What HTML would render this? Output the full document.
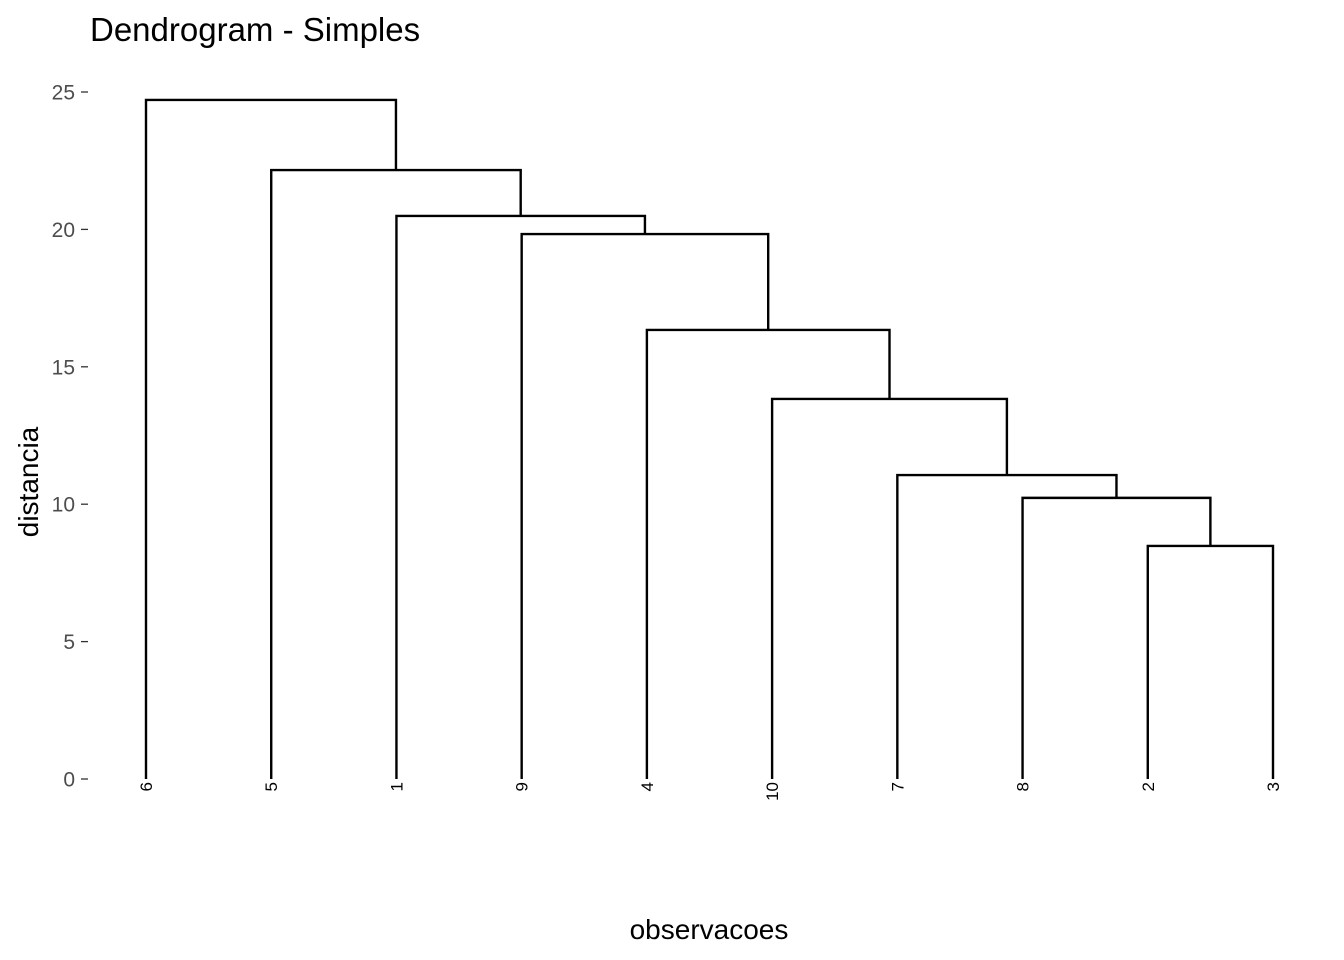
<!DOCTYPE html>
<html><head><meta charset="utf-8"><style>
body{margin:0;background:#fff;}
svg{display:block;font-family:"Liberation Sans",Arial,sans-serif;}
</style></head><body>
<svg id="chart" width="1344" height="960">
<text x="90" y="41" font-size="33" fill="#000">Dendrogram - Simples</text>
<text x="709" y="939" font-size="28" fill="#000" text-anchor="middle">observacoes</text>
<text transform="translate(38,482) rotate(-90)" font-size="28" fill="#000" text-anchor="middle">distancia</text>
<g id="yaxis"></g><g id="links"></g><g id="leaves"></g>
</svg>
<script>
const leafLabels = ["1","2","3","4","5","6","7","8","9","10"];
const leafOrder = [6,5,1,9,4,10,7,8,2,3];
// hclust-style merges: negative = leaf, positive = earlier merge index (1-based)
const mergeA = [-2,-8,-7,-10,-4,-9,-1,-5,-6];
const mergeB = [-3,1,2,3,4,5,6,7,8];
const mergeHeight = [8.48,10.23,11.06,13.83,16.34,19.83,20.49,22.16,24.71];
const yTicks = [0,5,10,15,20,25];

const NS="http://www.w3.org/2000/svg";
const svg=document.getElementById('chart');
const x0=146, dx=(1273-146)/(leafOrder.length-1);
const yScale=v=>779-v*(779-92)/25;
const xLeaf=id=>x0+leafOrder.indexOf(id)*dx;
function mk(tag,attrs,parent){const e=document.createElementNS(NS,tag);for(const k in attrs)e.setAttribute(k,attrs[k]);parent.appendChild(e);return e;}
const ya=document.getElementById('yaxis');
yTicks.forEach(t=>{
  const y=yScale(t);
  const l=mk('line',{x1:81,x2:88,y1:y,y2:y,stroke:'#333','stroke-width':1.3},ya);
  
  
  const tx=mk('text',{x:75,y:y+7.5,'font-size':21,fill:'#4d4d4d','text-anchor':'end'},ya);
  tx.textContent=t;
  
  
});
const links=document.getElementById('links');
const pos=[];
function node(ref){ if(ref<0) return {x:xLeaf(-ref),h:0}; return pos[ref-1]; }
mergeHeight.forEach((h,i)=>{
  const a=node(mergeA[i]), b=node(mergeB[i]);
  const y=yScale(h);
  const p=mk('path',{d:`M${a.x},${yScale(a.h)}V${y}H${b.x}V${yScale(b.h)}`,fill:'none',stroke:'#000','stroke-width':2.4},links);
  
  
  pos.push({x:(a.x+b.x)/2,h:h});
});
const lv=document.getElementById('leaves');
leafOrder.forEach(id=>{
  const x=xLeaf(id);
  const t=mk('text',{transform:`translate(${x+6},782) rotate(-90)`,'font-size':17,fill:'#000','text-anchor':'end'},lv);
  t.textContent=leafLabels[id-1];
  
  
});
</script>
</body></html>
